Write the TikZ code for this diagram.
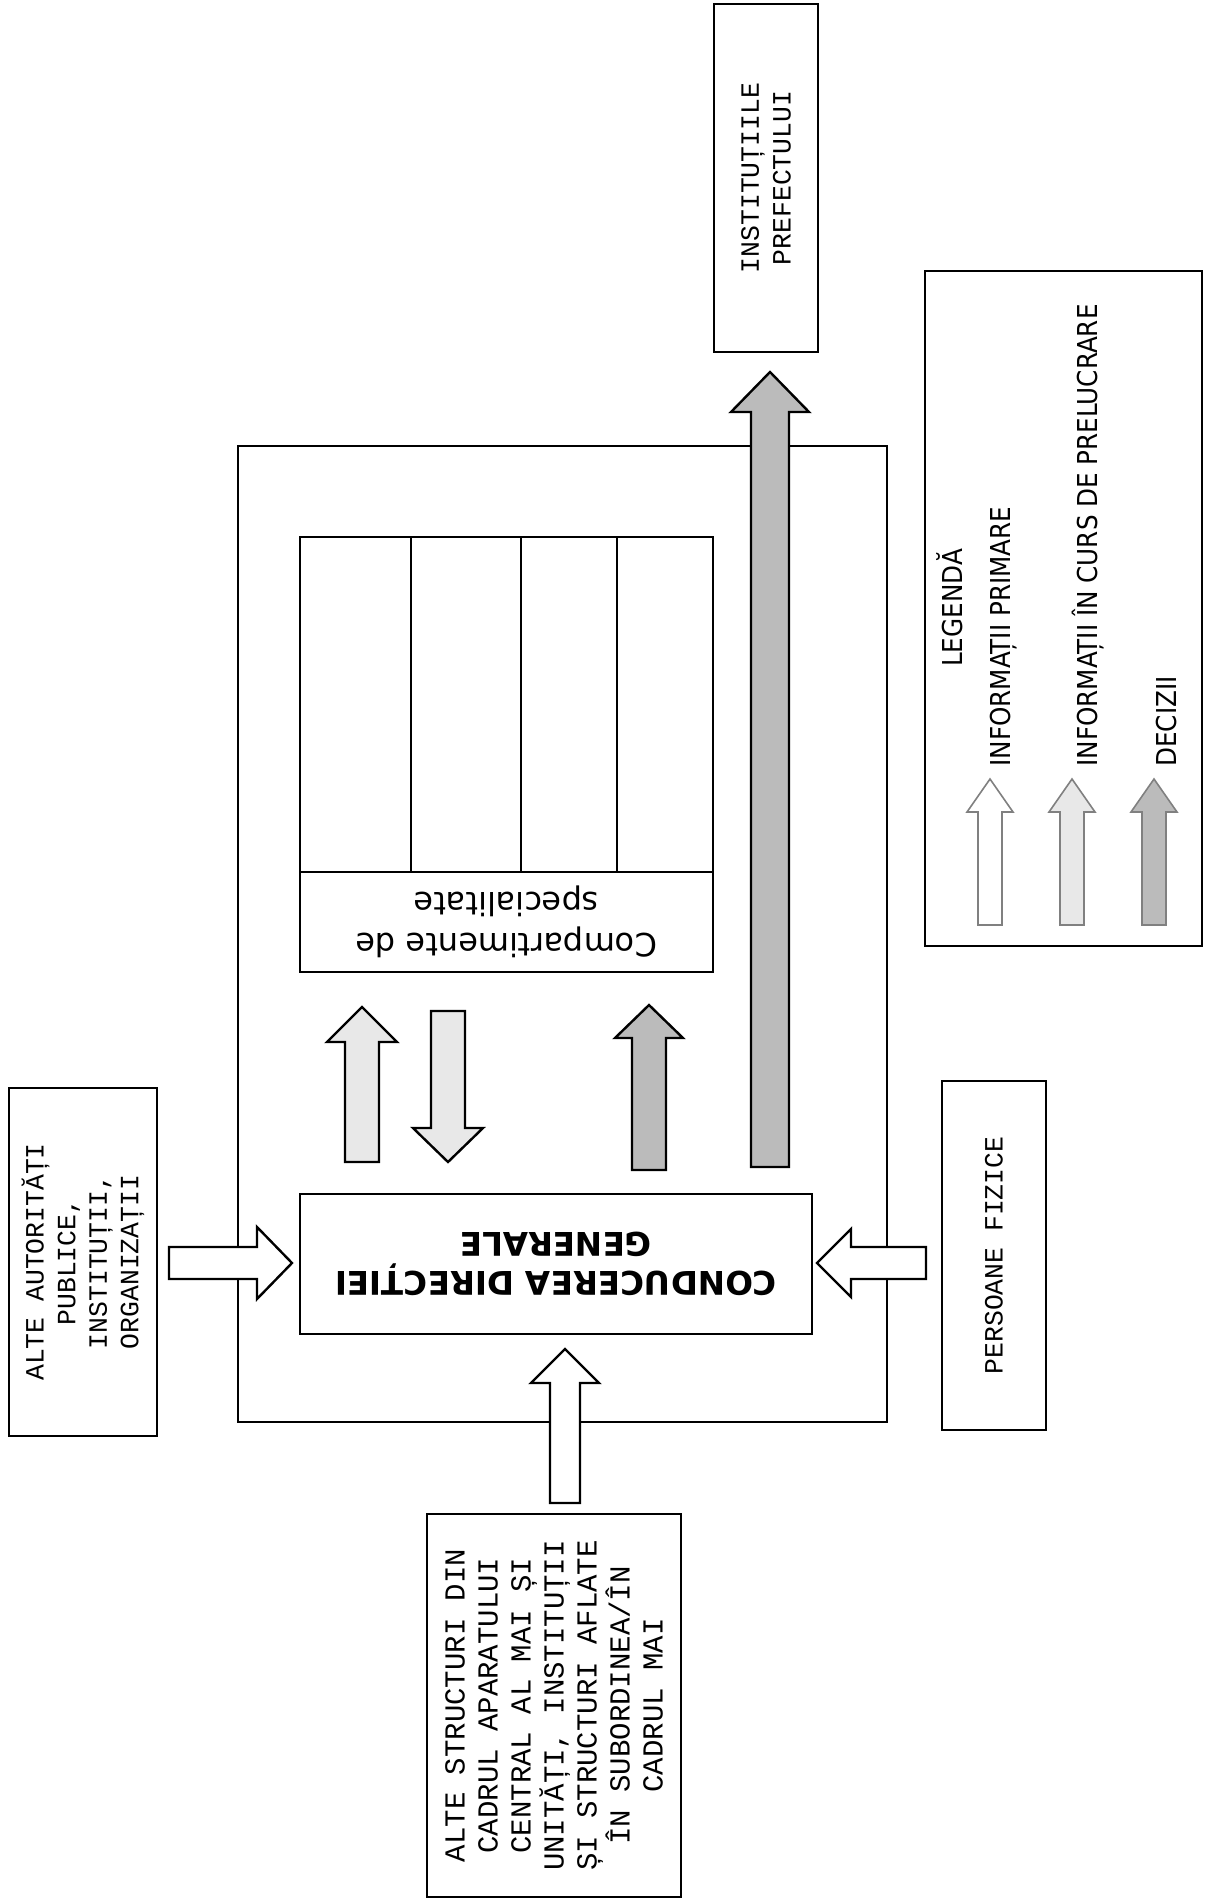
\documentclass[tikz,border=0pt]{standalone}
\usepackage{fontspec}
\setmainfont{DejaVu Sans}
\newfontfamily\courier{Liberation Mono}
\newfontfamily\narrow{DejaVu Sans Condensed}
\usepackage{pgf,tikz}
\usetikzlibrary{calc}
\definecolor{infolight}{HTML}{E8E8E8}
\definecolor{infodark}{HTML}{BBBBBB}
\definecolor{legline}{HTML}{808080}
\tikzstyle{box}=[draw,line width=1.3pt,inner sep=0pt,align=center]
\tikzstyle{courierbox}=[box,font=\courier\fontsize{13.2}{15.8}\selectfont]
\tikzstyle{legtext}=[font=\narrow\fontsize{13.7}{16}\selectfont,rotate=90,inner sep=0pt]
\tikzstyle{primare}=[draw=black,line width=1.2pt,fill=white]
\tikzstyle{curs}=[primare,fill=infolight]
\tikzstyle{decizii}=[primare,fill=infodark]
\tikzstyle{legarrow}=[draw=legline,line width=0.8pt]
% block arrow: style, from, to, half shaft, half head, head length
\newcommand{\blockarrow}[6][]{%
  \coordinate (hb) at ($(#3)!#6!(#2)$);
  \draw[#1] ($(#2)!#4!90:(#3)$) -- ($(hb)!#4!-90:(#2)$) -- ($(hb)!#5!-90:(#2)$) -- (#3)
    -- ($(hb)!#5!90:(#2)$) -- ($(hb)!#4!90:(#2)$) -- ($(#2)!#4!-90:(#3)$) -- cycle;
}
\begin{document}
\begin{tikzpicture}[x=0.5pt,y=-0.5pt]
  \useasboundingbox (0,0) rectangle (1208,1901);
  % directia generala
  \node[box,minimum width=324.5pt,minimum height=488pt] (dir) at (562.5,934) {};
  \node[box,line width=0.7pt,minimum width=206.5pt,minimum height=167.5pt] (grid) at (506.5,704.5) {};
  \foreach \x in {411,521,617}
    \draw[line width=0.7pt] (\x,537) -- (\x,872);
  \node[box,rotate=180,minimum width=206.5pt,minimum height=50pt,
    font=\fontsize{16}{20.5}\selectfont] (comp) at (506.5,922) {Compartimente de\\specialitate};
  \node[box,rotate=180,minimum width=256pt,minimum height=70pt,
    font=\bfseries\fontsize{16.3}{19.5}\selectfont] (cond) at (556,1264) {CONDUCEREA DIRECȚIEI\\GENERALE};
  % parteneri
  \node[courierbox,rotate=90,minimum width=174pt,minimum height=52pt] (pref) at (766,178) {INSTITUȚIILE\\PREFECTULUI};
  \node[courierbox,rotate=90,minimum width=174pt,minimum height=74pt] (alte) at (83,1262) {ALTE AUTORITĂȚI\\PUBLICE,\\INSTITUȚII,\\ORGANIZAȚII};
  \node[courierbox,rotate=90,minimum width=174.5pt,minimum height=52pt] (pers) at (994,1255.5) {PERSOANE FIZICE};
  \node[courierbox,rotate=90,minimum width=191.5pt,minimum height=127pt,
    font=\courier\fontsize{14.5}{16.5}\selectfont] (struct) at (554,1705.5)
    {ALTE STRUCTURI DIN\\CADRUL APARATULUI\\CENTRAL AL MAI ȘI\\UNITĂȚI, INSTITUȚII\\ȘI STRUCTURI AFLATE\\ÎN SUBORDINEA/ÎN\\CADRUL MAI};
  % fluxuri
  \coordinate (u1a) at (362,1162); \coordinate (u1b) at (362,1007);
  \coordinate (d2a) at (448,1011); \coordinate (d2b) at (448,1162);
  \coordinate (u3a) at (649,1170); \coordinate (u3b) at (649,1005);
  \coordinate (dca) at (770,1167); \coordinate (dcb) at (770,372);
  \coordinate (wla) at (169,1263); \coordinate (wlb) at (292,1263);
  \coordinate (wra) at (926,1263); \coordinate (wrb) at (817,1263);
  \coordinate (wba) at (565,1503); \coordinate (wbb) at (565,1349);
  \blockarrow[curs]{u1a}{u1b}{8.5pt}{17.5pt}{17.5pt}
  \blockarrow[curs]{d2a}{d2b}{8.5pt}{17.5pt}{17pt}
  \blockarrow[decizii]{u3a}{u3b}{8.5pt}{17pt}{16.5pt}
  \blockarrow[decizii]{dca}{dcb}{9.5pt}{19.5pt}{20pt}
  \blockarrow[primare]{wla}{wlb}{8pt}{18pt}{17.5pt}
  \blockarrow[primare]{wra}{wrb}{8pt}{17pt}{17pt}
  \blockarrow[primare]{wba}{wbb}{7.5pt}{17pt}{17pt}
  % legenda
  \node[box,line width=1pt,minimum width=138.5pt,minimum height=337.5pt] (leg) at (1063.5,608.5) {};
  \node[legtext] (legtitle) at (950,608) {LEGENDĂ};
  \node[legtext,anchor=west] (legprim) at (1004,767) {INFORMAȚII PRIMARE};
  \node[legtext,anchor=west] (legcurs) at (1088,767) {INFORMAȚII ÎN CURS DE PRELUCRARE};
  \node[legtext,anchor=west] (legdec) at (1167,767) {DECIZII};
  \coordinate (l1a) at (990,925); \coordinate (l1b) at (990,779);
  \coordinate (l2a) at (1072,925); \coordinate (l2b) at (1072,779);
  \coordinate (l3a) at (1154,925); \coordinate (l3b) at (1154,779);
  \blockarrow[primare,legarrow]{l1a}{l1b}{6pt}{11.5pt}{16.5pt}
  \blockarrow[curs,legarrow]{l2a}{l2b}{6pt}{11.5pt}{16.5pt}
  \blockarrow[decizii,legarrow]{l3a}{l3b}{6pt}{11.5pt}{16.5pt}
\end{tikzpicture}
\end{document}
